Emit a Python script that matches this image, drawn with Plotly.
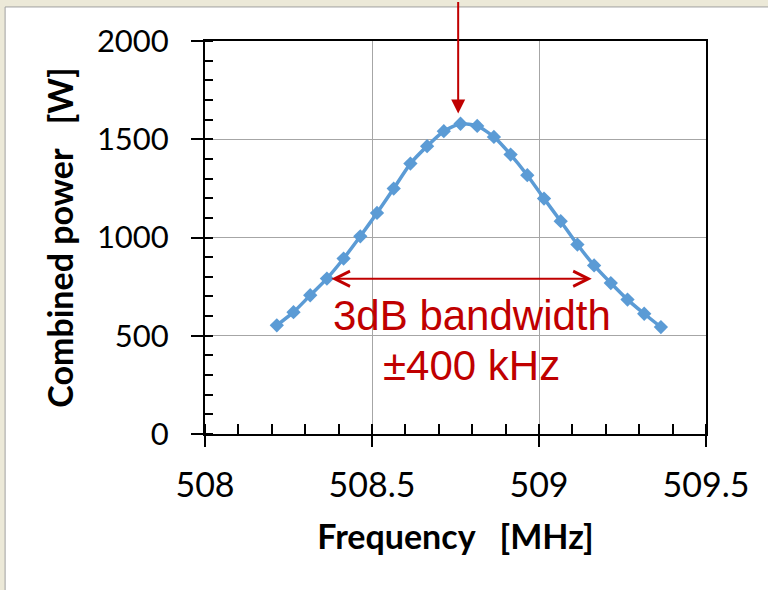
import plotly.graph_objects as go

# ---- data ----
freq_mhz = [508.215, 508.265, 508.315, 508.365, 508.415, 508.465, 508.515, 508.565,
            508.615, 508.665, 508.715, 508.765, 508.815, 508.865, 508.915, 508.965,
            509.015, 509.065, 509.115, 509.165, 509.215, 509.265, 509.315, 509.365]
power_w = [553, 620, 706, 791, 893, 1006, 1125, 1249, 1376, 1465, 1541, 1579,
           1568, 1512, 1422, 1317, 1198, 1083, 964, 858, 768, 684, 612, 544]

x_tickvals = [508, 508.5, 509, 509.5]
x_ticktext = ["508", "508.5", "509", "509.5"]
y_tickvals = [0, 500, 1000, 1500, 2000]
y_ticktext = ["0", "500", "1000", "1500", "2000"]

peak_freq, peak_tip_power = 508.758, 1631
bw_low, bw_high, bw_level = 508.374, 509.158, 790
label_x = 508.798
label1_y, label2_y = 604, 349

RED = "#C00000"
BLUE = "#5B9BD5"
GRID = "#A6A6A6"
FONT = "Lato, Open Sans, sans-serif"
YTICKFONT = dict(family=FONT, size=31, color="#000000")
XTICKFONT = dict(family=FONT, size=34, color="#000000")
TITLEFONT = dict(family=FONT, size=34, color="#000000", weight="bold")

fig = go.Figure()
fig.add_trace(go.Scatter(
    x=freq_mhz, y=power_w, mode="lines+markers",
    line=dict(color=BLUE, width=3.5, shape="spline", smoothing=0.6),
    marker=dict(symbol="diamond", size=11, color=BLUE),
    showlegend=False, hoverinfo="x+y",
))

# white panel on beige window background
fig.add_shape(type="rect", xref="paper", yref="paper",
              x0=-0.399, x1=1.3, y0=-0.6, y1=1.0866,
              fillcolor="white", line=dict(color="#A0A0A0", width=1), layer="below")

fig.update_layout(
    width=768, height=590,
    margin=dict(l=205, r=62, t=41, b=156, pad=0),
    paper_bgcolor="#ECE9D8",
    plot_bgcolor="white",
    showlegend=False,
)

fig.update_xaxes(
    range=[508, 509.5], tickvals=x_tickvals, ticktext=x_ticktext,
    showline=True, linecolor="black", linewidth=2, mirror=True,
    ticks="outside", ticklen=11, tickwidth=1.5, tickcolor="black",
    ticklabelstandoff=9,
    minor=dict(dtick=0.1, ticks="inside", ticklen=10, tickwidth=1.5, tickcolor="black", showgrid=False),
    showgrid=True, gridcolor=GRID, gridwidth=1, zeroline=False,
    tickfont=XTICKFONT,
    title=dict(text="Frequency\u00a0\u00a0\u00a0[MHz]", font=TITLEFONT, standoff=22),
)
fig.update_yaxes(
    range=[0, 2000], tickvals=y_tickvals, ticktext=y_ticktext,
    showline=True, linecolor="black", linewidth=2, mirror=True,
    ticks="outside", ticklen=12, tickwidth=1.5, tickcolor="black",
    ticklabelstandoff=16,
    minor=dict(dtick=100, ticks="inside", ticklen=8, tickwidth=1.5, tickcolor="black", showgrid=False),
    showgrid=True, gridcolor=GRID, gridwidth=1, zeroline=False,
    tickfont=YTICKFONT,
    title=dict(text="Combined power\u00a0\u00a0\u00a0[W]", font=TITLEFONT, standoff=13),
)

# peak arrow from top of the window
fig.add_annotation(x=peak_freq, y=peak_tip_power, xref="x", yref="y",
                   text="", showarrow=True, ax=0, ay=-113,
                   arrowhead=2, arrowsize=1.4, arrowwidth=2, arrowcolor=RED, standoff=0)
# 3 dB bandwidth double arrow
fig.add_annotation(x=bw_high, y=bw_level, xref="x", yref="y",
                   ax=bw_low, ay=bw_level, axref="x", ayref="y",
                   text="", showarrow=True, arrowside="end+start",
                   arrowhead=5, startarrowhead=5, arrowsize=1.5, startarrowsize=1.5,
                   arrowwidth=2, arrowcolor=RED, standoff=0, startstandoff=0)
fig.add_annotation(x=label_x, y=label1_y, xref="x", yref="y", text="3dB bandwidth",
                   showarrow=False, font=dict(family="Liberation Sans, Arial, sans-serif", size=42, color=RED))
fig.add_annotation(x=label_x, y=label2_y, xref="x", yref="y", text="\u00b1400 kHz",
                   showarrow=False, font=dict(family="Liberation Sans, Arial, sans-serif", size=42, color=RED))

fig.write_html("out.html",
               config={"displayModeBar": False},
               post_script="document.body.style.margin='0';document.body.style.overflow='hidden';")
